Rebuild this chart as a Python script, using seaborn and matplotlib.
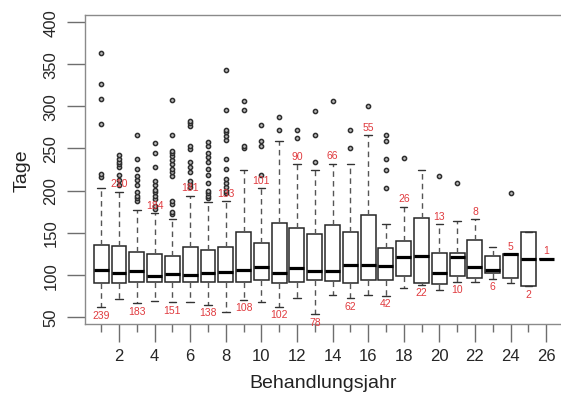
import numpy as np
import pandas as pd
import matplotlib
matplotlib.use("Agg")
import matplotlib.pyplot as plt
import seaborn as sns
from matplotlib.ticker import FixedLocator

# ---------------- data ----------------
years = list(range(1, 27))
n_labels = [239, 210, 183, 184, 151, 181, 138, 133, 108, 101, 102, 90, 78,
            66, 62, 55, 42, 26, 22, 13, 10, 8, 6, 5, 2, 1]
whis_lo = [61, 71, 66, 69, 67, 68, 64, 56, 70, 67, 62, 72, 53,
           76, 72, 76, 75, 84, 88, 82, 91.6, 91.6, 95, 90, 86, 119]
q1 = [90.4, 89.7, 91.6, 91.6, 91.6, 90.9, 90.9, 90.9, 91.6, 93.6, 90.1, 90.9, 93.6,
      92.8, 90.1, 93.6, 93.6, 98, 90.1, 88.9, 98.7, 95.6, 102, 95.6, 86, 119]
med = [105.5, 102, 104.7, 98.7, 100.4, 99.9, 101.6, 103.5, 105.5, 108.7, 101.6, 107.5, 104,
       104.7, 111.8, 111.8, 109.9, 120.6, 122.5, 102, 121.3, 109.4, 105.9, 124, 118.6, 119]
q3 = [135.6, 134.4, 126.6, 124.9, 121.8, 133.2, 129.3, 132.5, 151.1, 137.6, 161, 155.1, 148.3,
      159.4, 151.1, 171.3, 131.3, 139.6, 167.3, 125.7, 125.7, 141.2, 121.8, 124.5, 151, 119]
whis_hi = [202.7, 198.6, 177, 173, 166, 194, 186, 187, 225, 203, 259, 231, 224,
           232, 231, 266, 160, 181, 225, 160, 164, 166, 132.5, 124.5, 151, 119]
outliers = [
    [363, 327, 309, 279, 220, 216],
    [242, 238, 234, 231, 228, 218, 212, 206],
    [266, 238, 226, 217, 212, 207, 198, 194, 191, 187],
    [257, 245, 228, 211, 206, 201, 198, 194, 190, 182, 178],
    [308, 266, 247, 245, 241, 236, 231, 226, 222, 217, 187, 184, 174, 172],
    [283, 280, 277, 253, 249, 234, 228, 222, 211, 208, 204],
    [258, 253, 245, 240, 234, 226, 218, 209, 200, 197, 194, 191],
    [343, 296, 272, 269, 265, 260, 238, 226, 214, 209, 204, 200, 197],
    [307, 296, 253, 250],
    [278, 259, 253, 218],
    [288, 272],
    [272, 262],
    [295, 266, 234],
    [306],
    [272, 251],
    [301],
    [266, 259, 238, 224, 203],
    [239],
    [],
    [217],
    [209],
    [],
    [],
    [197],
    [],
    [],
]


def sample_for(lo, a, m_, b, hi, outs):
    """Build a sample whose linear-percentile quartiles / whiskers equal the given stats."""
    lows = sorted(o for o in outs if o < a)
    highs = sorted(o for o in outs if o > b)
    m = max(len(lows), len(highs)) + 1
    part1 = lows + [lo] + [a] * (m - len(lows) - 1)          # idx 0..m-1
    part2 = [a] + [m_] * (m - 1)                             # idx m..2m-1
    part3 = [m_] + [b] * (m - 1)                             # idx 2m..3m-1
    part4 = [b] + [b] * (m - len(highs) - 1) + [hi] + highs  # idx 3m..4m
    return part1 + part2 + part3 + part4


rows = []
for i, y in enumerate(years):
    vals = sample_for(whis_lo[i], q1[i], med[i], q3[i], whis_hi[i], outliers[i])
    rows += [(str(y), v) for v in vals]
df = pd.DataFrame(rows, columns=["jahr", "tage"])

# ---------------- figure ----------------
sns.set_style("white")
plt.rcParams["font.family"] = ["Liberation Sans", "DejaVu Sans"]

W, H = 561, 402
fig = plt.figure(figsize=(W / 100, H / 100), dpi=100)
ax = fig.add_axes([85 / W, 1 - 325 / H, (565 - 85) / W, (325 - 16) / H])

sns.boxplot(
    data=df, x="jahr", y="tage", order=[str(y) for y in years],
    width=0.84, color="white", linecolor="#262626", linewidth=1.1,
    whis=1.5, fliersize=3.0,
    flierprops=dict(marker="o", markerfacecolor="#bdbdbd",
                    markeredgecolor="#2e2e2e", markeredgewidth=1.1),
    whiskerprops=dict(linestyle=(0, (4, 3)), color="#555555", linewidth=1.0),
    capprops=dict(color="#333333", linewidth=1.0),
    medianprops=dict(color="black", linewidth=2.3),
    ax=ax,
)

# n labels: odd groups below the lower whisker, even groups above the upper whisker
for i, n in enumerate(n_labels):
    if i % 2 == 0:
        yv = whis_lo[i] - 9
    else:
        yv = whis_hi[i] + 10
    ax.text(i, yv, str(n), color="#e03a3e", fontsize=7.5,
            ha="center", va="center")

ax.set_xlim(-0.91, 26.06)
ax.set_ylim(41.3, 408.7)

even_pos = [i for i in range(26) if (i + 1) % 2 == 0]
odd_pos = [i for i in range(26) if (i + 1) % 2 == 1]
ax.set_xticks(even_pos)
ax.set_xticklabels([str(years[i]) for i in even_pos])
ax.xaxis.set_minor_locator(FixedLocator(odd_pos))
ax.set_yticks([50, 100, 150, 200, 250, 300, 350, 400])

ax.tick_params(axis="x", which="major", length=13, width=1.0, color="#6e6e6e",
               labelsize=12, pad=4, direction="out", bottom=True)
ax.tick_params(axis="x", which="minor", length=6, width=1.0, color="#6e6e6e",
               direction="out", bottom=True)
ax.tick_params(axis="y", which="major", length=13, width=1.0, color="#6e6e6e",
               labelsize=12, pad=6, direction="out", left=True)
for lab in ax.get_yticklabels():
    lab.set_rotation(90)
    lab.set_va("center")

for s in ["top", "left", "bottom", "right"]:
    ax.spines[s].set_color("#8a8a8a")
    ax.spines[s].set_linewidth(1.0)

ax.set_xlabel("Behandlungsjahr", fontsize=14, color="#222222")
ax.set_ylabel("Tage", fontsize=14, color="#222222")
ax.xaxis.set_label_coords((323 - 85) / 480, (325 - 384) / 309)
ax.xaxis.label.set_va("center")
ax.yaxis.set_label_coords((22 - 85) / 480, 0.5)
ax.yaxis.label.set_va("center")

fig.savefig("out.png", dpi=100)
